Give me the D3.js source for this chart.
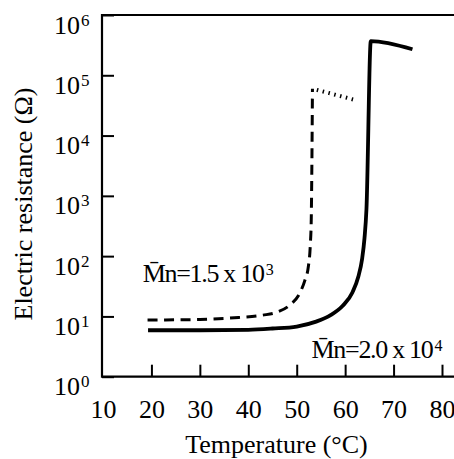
<!DOCTYPE html>
<html>
<head>
<meta charset="utf-8">
<script src="https://cdn.jsdelivr.net/npm/d3@7"></script>
<style>
  body { margin: 0; background: #fff; }
  svg, svg text { font-family: "Liberation Serif", "Times New Roman", serif; }
  svg { display: block; }
</style>
</head>
<body>
<div id="chart"></div>
<script>
/* DATA */
const xTicks = [10, 20, 30, 40, 50, 60, 70, 80];
const yExponents = [0, 1, 2, 3, 4, 5, 6];

// Mn = 2.0 x 10^4 (solid line)
const highTemp = [19.3, 30, 40, 45, 50, 54, 57, 59.5, 61.5, 62.7, 63.5, 64.0, 64.4, 65.3, 73.9];
const highRes  = [5.9, 5.9, 6.0, 6.3, 6.8, 8.2, 10.5, 15, 25, 45, 90, 200, 600, 3.7e5, 2.7e5];

// Mn = 1.5 x 10^3 (dashed line)
const lowTemp = [19.2, 30, 38, 43, 46, 48.6, 50.7, 51.7, 52.4, 52.8, 53.0, 53.1, 53.25];
const lowRes  = [8.7, 8.9, 9.6, 10.5, 11.8, 15.5, 25, 40, 67, 150, 400, 1800, 6.0e4];

// Mn = 1.5 x 10^3 after the jump (dotted line)
const lowTopTemp = [53.25, 62.0];
const lowTopRes  = [6.0e4, 3.9e4];

const labelHigh = ["M\u0304n=2.0 x 10", "4"];
const labelLow  = ["M\u0304n=1.5 x 10", "3"];

/* CONSTANTS */
const width = 454,
  height = 459,
  margin = { top: 15, bottom: 82.3, left: 102 },
  serif = "'Liberation Serif', 'Times New Roman', serif";

const svg = d3.select("#chart")
  .append("svg")
  .attr("width", width)
  .attr("height", height);

// scales
const xScale = d3.scaleLinear()
  .domain([10, 80])
  .range([103, 442]);

const yScale = d3.scaleLog()
  .domain([1, 1e6])
  .range([height - margin.bottom, margin.top]);

const bottomY = height - margin.bottom;

// axes (ticks point inward)
const xAxis = d3.axisBottom(xScale)
  .tickValues(xTicks)
  .tickSizeInner(-12)
  .tickSizeOuter(0)
  .tickFormat(d3.format("d"));

const xAxisGroup = svg.append("g")
  .attr("transform", `translate(0, ${bottomY})`)
  .call(xAxis)
  .attr("font-family", serif)
  .attr("font-size", 26);

xAxisGroup.select(".domain").remove();
xAxisGroup.selectAll(".tick line")
  .attr("stroke", "#000")
  .attr("stroke-width", 2)
  .attr("opacity", d => d === 10 ? 0 : 1);
xAxisGroup.selectAll(".tick text")
  .attr("y", 41)
  .attr("dy", null)
  .attr("fill", "#000");

const yAxis = d3.axisLeft(yScale)
  .tickValues(yExponents.map(e => Math.pow(10, e)))
  .tickSizeInner(-12)
  .tickSizeOuter(0)
  .tickFormat("");

const yAxisGroup = svg.append("g")
  .attr("transform", `translate(${margin.left}, 0)`)
  .call(yAxis)
  .attr("font-family", serif)
  .attr("font-size", 26);

yAxisGroup.select(".domain").remove();
yAxisGroup.selectAll(".tick line")
  .attr("stroke", "#000")
  .attr("stroke-width", 2);

// "10" with superscript exponent
yAxisGroup.selectAll(".tick").each(function (d) {
  const t = d3.select(this).append("text")
    .attr("x", 54 - margin.left)
    .attr("y", 18)
    .attr("text-anchor", "start")
    .attr("fill", "#000");
  t.append("tspan").text("10");
  t.append("tspan")
    .attr("dx", 1)
    .attr("dy", -8)
    .attr("font-size", 17)
    .text(Math.round(Math.log10(d)));
});

// frame: left, top and bottom lines
svg.append("path")
  .attr("d", `M${width},${margin.top}H${margin.left}V${bottomY}H${width}`)
  .attr("fill", "none")
  .attr("stroke", "#000")
  .attr("stroke-width", 2.2);

// line generator
const lineGen = d3.line()
  .x(d => xScale(d[0]))
  .y(d => yScale(d[1]))
  .curve(d3.curveMonotoneX);

svg.append("path")
  .datum(d3.zip(highTemp, highRes))
  .attr("d", lineGen)
  .attr("fill", "none")
  .attr("stroke", "#000")
  .attr("stroke-width", 3.8)
  .attr("stroke-linejoin", "miter");

svg.append("path")
  .datum(d3.zip(lowTemp, lowRes))
  .attr("d", lineGen)
  .attr("fill", "none")
  .attr("stroke", "#000")
  .attr("stroke-width", 3)
  .attr("stroke-dasharray", "10,6.5");

svg.append("path")
  .datum(d3.zip(lowTopTemp, lowTopRes))
  .attr("d", d3.line().x(d => xScale(d[0])).y(d => yScale(d[1])))
  .attr("fill", "none")
  .attr("stroke", "#000")
  .attr("stroke-width", 4)
  .attr("stroke-dasharray", "1.5,4.5")
  .attr("stroke-dashoffset", -4.5);

// annotations
function annotate(lbl, x, y) {
  const t = svg.append("text")
    .attr("x", x)
    .attr("y", y)
    .attr("fill", "#000")
    .attr("font-family", serif)
    .attr("font-size", 26);
  t.append("tspan")
    .attr("letter-spacing", -1.3)
    .text(lbl[0]);
  t.append("tspan")
    .attr("dx", 2)
    .attr("dy", -7)
    .attr("font-size", 16)
    .text(lbl[1]);
}
annotate(labelLow, 142.7, 281.7);
annotate(labelHigh, 311.5, 358);

// axis titles
svg.append("text")
  .attr("x", 276.5)
  .attr("y", 453)
  .attr("text-anchor", "middle")
  .attr("fill", "#000")
  .attr("font-family", serif)
  .attr("font-size", 26)
  .text("Temperature (\u00B0C)");

svg.append("text")
  .attr("transform", `translate(32.4, 204) rotate(-90)`)
  .attr("text-anchor", "middle")
  .attr("fill", "#000")
  .attr("font-family", serif)
  .attr("font-size", 26)
  .text("Electric resistance (\u03A9)");
</script>
</body>
</html>
